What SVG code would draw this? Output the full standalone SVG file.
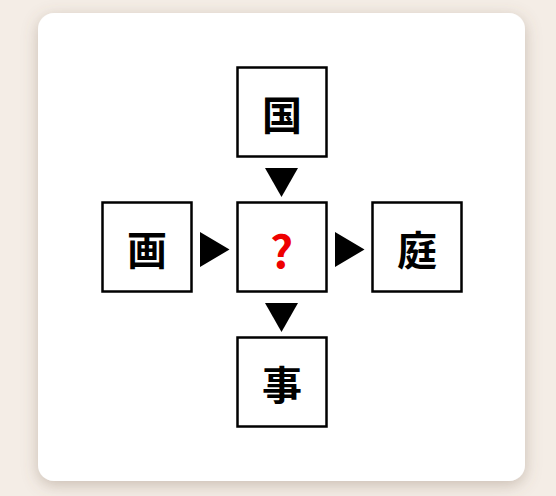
<svg xmlns="http://www.w3.org/2000/svg" width="556" height="496" viewBox="0 0 556 496">
<defs>
<filter id="sh" x="-10%" y="-10%" width="120%" height="125%">
<feDropShadow dx="0" dy="4" stdDeviation="8" flood-color="#7a6450" flood-opacity="0.35"/>
</filter>
</defs>
<style>
.box{fill:#fff;stroke:#000;stroke-width:2.5}
.ch{font-family:"Noto Sans CJK JP","Noto Sans CJK SC",sans-serif;font-weight:700;font-size:40px;text-anchor:middle;dominant-baseline:central;fill:#000}
.q{font-family:"Noto Sans CJK JP","Noto Sans",sans-serif;font-weight:700;font-size:45px;text-anchor:middle;dominant-baseline:central;fill:#ee0000}
.arr{fill:#000}
</style>
<rect width="556" height="496" fill="#f4ede6"/>
<rect x="38" y="13" width="487" height="468" rx="16" fill="#fff" filter="url(#sh)"/>
<g id="connectors">
<polygon class="arr" points="265,168 298,168 281.5,197"/>
<polygon class="arr" points="265,303 298,303 281.5,332"/>
<polygon class="arr" points="200,232 200,267 229.5,249.5"/>
<polygon class="arr" points="335,232 335,267 364.5,249.5"/>
</g>
<g id="node-top">
<rect class="box" x="237.5" y="67.5" width="89" height="89"/>
<text class="ch" x="282" y="113">国</text>
</g>
<g id="node-left">
<rect class="box" x="102.5" y="202.5" width="89" height="89"/>
<text class="ch" x="147" y="248">画</text>
</g>
<g id="node-center">
<rect class="box" x="237.5" y="202.5" width="89" height="89"/>
<text class="q" x="281.5" y="248">?</text>
</g>
<g id="node-right">
<rect class="box" x="372.5" y="202.5" width="89" height="89"/>
<text class="ch" x="417" y="248">庭</text>
</g>
<g id="node-bottom">
<rect class="box" x="237.5" y="337.5" width="89" height="89"/>
<text class="ch" x="282" y="383">事</text>
</g>
</svg>
